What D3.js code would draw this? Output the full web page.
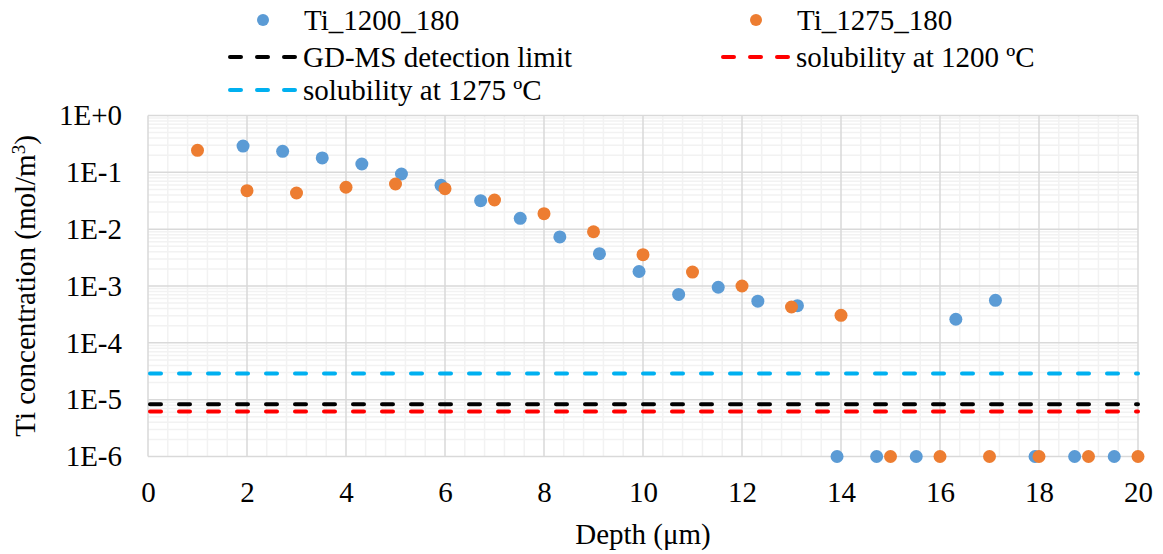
<!DOCTYPE html>
<html>
<head>
<meta charset="utf-8">
<script src="https://cdn.jsdelivr.net/npm/d3@7"></script>
<style>
  body { margin: 0; background: #fff; }
  svg text { font-family: "Liberation Serif", "Times New Roman", Times, "DejaVu Serif", serif; }
</style>
</head>
<body>
<svg id="chart" width="1163" height="554"></svg>
<script>
// data
const depth1200 = [1.92, 2.72, 3.52, 4.32, 5.12, 5.92, 6.72, 7.52, 8.32, 9.12, 9.92, 10.72, 11.52, 12.32, 13.12, 13.92, 14.72, 15.52, 16.32, 17.12, 17.92, 18.72, 19.52];
const conc1200 = [0.29, 0.234, 0.179, 0.14, 0.0935, 0.0591, 0.0317, 0.0155, 0.0073, 0.0037, 0.0018, 0.00071, 0.00095, 0.00054, 0.00045, 1e-6, 1e-6, 1e-6, 0.00026, 0.00056, 1e-6, 1e-6, 1e-6];
const depth1275 = [1, 2, 3, 4, 5, 6, 7, 8, 9, 10, 11, 12, 13, 14, 15, 16, 17, 18, 19, 20];
const conc1275 = [0.244, 0.0475, 0.0433, 0.0546, 0.0623, 0.0515, 0.0326, 0.0187, 0.009, 0.00356, 0.00176, 0.001, 0.000427, 0.000305, 1e-6, 1e-6, 1e-6, 1e-6, 1e-6, 1e-6];
const limitNames = ["GD-MS detection limit", "solubility at 1200 ºC", "solubility at 1275 ºC"];
const limitValues = [8.3e-6, 6.2e-6, 2.9e-5];
const limitColors = ["#000000", "#FF0000", "#00B0F0"];
const xTicks = [0, 2, 4, 6, 8, 10, 12, 14, 16, 18, 20];
const yTicks = [1, 1e-1, 1e-2, 1e-3, 1e-4, 1e-5, 1e-6];
const yTickLabels = ["1E+0", "1E-1", "1E-2", "1E-3", "1E-4", "1E-5", "1E-6"];

const blue = "#5B9BD5", orange = "#ED7D31";
const pLeft = 148, pRight = 1138, pTop = 115.5, pBottom = 456.5;
const fs = 29;

const svg = d3.select("#chart");
const x = d3.scaleLinear([0, 20], [pLeft, pRight]);
const y = d3.scaleLog([1e-6, 1], [pBottom, pTop]);

// minor grid
const minorX = d3.range(0, 20.001, 0.4).filter(v => Math.abs(v / 2 - Math.round(v / 2)) > 1e-6);
svg.append("g").selectAll("line").data(minorX).join("line")
  .attr("x1", d => x(d)).attr("x2", d => x(d)).attr("y1", pTop).attr("y2", pBottom)
  .attr("stroke", "#F2F2F2").attr("stroke-width", 1.5);
const minorY = [];
for (let e = -6; e < 0; e++) for (let m = 2; m <= 9; m++) minorY.push(m * Math.pow(10, e));
svg.append("g").selectAll("line").data(minorY).join("line")
  .attr("x1", pLeft).attr("x2", pRight).attr("y1", d => y(d)).attr("y2", d => y(d))
  .attr("stroke", "#F2F2F2").attr("stroke-width", 1.5);

// major grid
svg.append("g").selectAll("line").data(xTicks).join("line")
  .attr("x1", d => x(d)).attr("x2", d => x(d)).attr("y1", pTop).attr("y2", pBottom)
  .attr("stroke", "#D9D9D9").attr("stroke-width", 1.5);
svg.append("g").selectAll("line").data(yTicks).join("line")
  .attr("x1", pLeft).attr("x2", pRight).attr("y1", d => y(d)).attr("y2", d => y(d))
  .attr("stroke", "#D9D9D9").attr("stroke-width", 1.5);

// axes
const fmt = d => yTickLabels[yTicks.findIndex(t => Math.abs(Math.log10(t) - Math.log10(d)) < 1e-6)];
const yAxis = svg.append("g")
  .attr("transform", `translate(${pLeft - 26},0)`)
  .call(d3.axisLeft(y).tickValues(yTicks).tickFormat(fmt).tickSize(0).tickPadding(0));
yAxis.attr("font-family", null).attr("font-size", fs);
yAxis.select(".domain").remove();
yAxis.selectAll("text").attr("fill", "#000");

const xAxis = svg.append("g")
  .attr("transform", `translate(0,${pBottom + 25})`)
  .call(d3.axisBottom(x).tickValues(xTicks).tickSize(0).tickPadding(0));
xAxis.attr("font-family", null).attr("font-size", fs);
xAxis.select(".domain").remove();
xAxis.selectAll("text").attr("fill", "#000");

// limit lines
svg.append("g").selectAll("line").data(limitValues).join("line")
  .attr("x1", pLeft + 2).attr("x2", pRight)
  .attr("y1", d => y(d)).attr("y2", d => y(d))
  .attr("stroke", (d, i) => limitColors[i]).attr("stroke-width", 4)
  .attr("stroke-dasharray", "11,18").attr("stroke-linecap", "round");

// points
const s1 = depth1200.map((d, i) => ({ x: d, y: conc1200[i] }));
const s2 = depth1275.map((d, i) => ({ x: d, y: conc1275[i] }));
svg.append("g").selectAll("circle").data(s1).join("circle")
  .attr("cx", d => x(d.x)).attr("cy", d => y(d.y)).attr("r", 6.5).attr("fill", blue);
svg.append("g").selectAll("circle").data(s2).join("circle")
  .attr("cx", d => x(d.x)).attr("cy", d => y(d.y)).attr("r", 6.5).attr("fill", orange);

// axis titles
svg.append("text").attr("x", (pLeft + pRight) / 2).attr("y", 544)
  .attr("text-anchor", "middle").attr("font-size", fs).text("Depth (μm)");
const yt = svg.append("text").attr("transform", `translate(35,${(pTop + pBottom) / 2}) rotate(-90)`)
  .attr("text-anchor", "middle").attr("font-size", fs);
yt.append("tspan").text("Ti concentration (mol/m");
yt.append("tspan").attr("font-size", 19).attr("dy", -10).text("3");
yt.append("tspan").attr("dy", 10).text(")");

// legend
const leg = svg.append("g").attr("font-size", fs);
const legItems = [
  { type: "dot", color: blue, name: "Ti_1200_180", x: 228, y: 20 },
  { type: "dot", color: orange, name: "Ti_1275_180", x: 721, y: 20 },
  { type: "line", color: limitColors[0], name: limitNames[0], x: 228, y: 57 },
  { type: "line", color: limitColors[1], name: limitNames[1], x: 721, y: 57 },
  { type: "line", color: limitColors[2], name: limitNames[2], x: 228, y: 90 }
];
legItems.forEach(it => {
  if (it.type === "dot") {
    leg.append("circle").attr("cx", it.x + 35).attr("cy", it.y).attr("r", 6).attr("fill", it.color);
    leg.append("text").attr("x", it.x + 76).attr("y", it.y + 10).text(it.name);
  } else {
    leg.append("line").attr("x1", it.x + 2).attr("x2", it.x + 68).attr("y1", it.y).attr("y2", it.y)
      .attr("stroke", it.color).attr("stroke-width", 4)
      .attr("stroke-dasharray", "11,16").attr("stroke-linecap", "round");
    leg.append("text").attr("x", it.x + 75).attr("y", it.y + 10).text(it.name);
  }
});
</script>
</body>
</html>
